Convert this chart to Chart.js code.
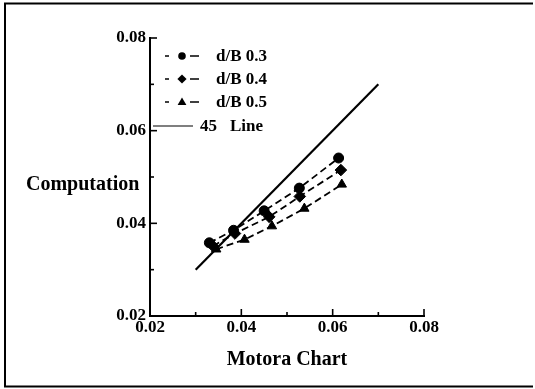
<!DOCTYPE html>
<html>
<head>
<meta charset="utf-8">
<script src="https://cdn.jsdelivr.net/npm/chart.js@4/dist/chart.umd.min.js"></script>
<style>
  html, body { margin: 0; padding: 0; background: #fff; }
  #wrap { width: 535px; height: 389px; }
</style>
</head>
<body>
<div id="wrap"><canvas id="chart" width="535" height="389"></canvas></div>
<script>
// values (Motora chart vs computation)
const motoraDB03 = [0.0330, 0.0383, 0.0450, 0.0527, 0.0613];
const compDB03   = [0.0358, 0.0385, 0.0427, 0.0476, 0.0541];
const motoraDB04 = [0.0338, 0.0386, 0.0461, 0.0528, 0.0618];
const compDB04   = [0.0351, 0.0378, 0.0414, 0.0458, 0.0515];
const motoraDB05 = [0.0345, 0.0407, 0.0467, 0.0538, 0.0620];
const compDB05   = [0.0344, 0.0365, 0.0394, 0.0432, 0.0484];
const line45     = [0.03, 0.07];

const seriesLabels = ['d/B 0.3', 'd/B 0.4', 'd/B 0.5'];
const axisMin = 0.02;
const axisMax = 0.08;
const tickStep = 0.01;

const serif = 'Liberation Serif';

function pairs(xs, ys) {
    return xs.map((x, i) => ({ x: x, y: ys[i] }));
}

function isMajor(v) {
    return Math.round(v * 100) % 2 === 0;
}

function markerDataset(label, xs, ys, style, radius) {
    return {
        label: label,
        data: pairs(xs, ys),
        showLine: true,
        borderColor: '#000',
        backgroundColor: '#000',
        borderWidth: 1.8,
        borderDash: [7, 4],
        pointStyle: style,
        pointRadius: radius,
        pointBorderWidth: 1,
        pointBackgroundColor: '#000',
        pointBorderColor: '#000'
    };
}

function drawMarker(ctx, style, r, x, y) {
    ctx.save();
    ctx.fillStyle = '#000';
    ctx.beginPath();
    if (style === 'circle') {
        ctx.arc(x, y, r, 0, Math.PI * 2);
    } else if (style === 'rectRot') {
        ctx.moveTo(x, y - r); ctx.lineTo(x + r, y); ctx.lineTo(x, y + r); ctx.lineTo(x - r, y);
    } else {
        ctx.moveTo(x, y - r); ctx.lineTo(x + r, y + r * 0.7); ctx.lineTo(x - r, y + r * 0.7);
    }
    ctx.closePath();
    ctx.fill();
    ctx.restore();
}

// tick marks pointing into the plot, longer on labelled values
const inwardTicks = {
    id: 'inwardTicks',
    afterDraw(chart) {
        const ctx = chart.ctx;
        const xs = chart.scales.x, ys = chart.scales.y;
        ctx.save();
        ctx.strokeStyle = '#000';
        ctx.lineWidth = 1.6;
        xs.ticks.forEach(t => {
            const px = xs.getPixelForValue(t.value);
            const len = isMajor(t.value) ? 7 : 4;
            ctx.beginPath();
            ctx.moveTo(px, xs.top);
            ctx.lineTo(px, xs.top - len);
            ctx.stroke();
        });
        ys.ticks.forEach(t => {
            const py = ys.getPixelForValue(t.value);
            const len = isMajor(t.value) ? 7 : 4;
            ctx.beginPath();
            ctx.moveTo(ys.right, py);
            ctx.lineTo(ys.right + len, py);
            ctx.stroke();
        });
        ctx.restore();
    }
};

// legend, y title and the frame of the figure
const decorations = {
    id: 'decorations',
    afterDraw(chart) {
        const ctx = chart.ctx;
        ctx.save();
        ctx.fillStyle = '#000';
        ctx.strokeStyle = '#000';

        // frame (no right edge in the scan)
        ctx.lineWidth = 2;
        ctx.beginPath();
        ctx.moveTo(533, 3.5);
        ctx.lineTo(5, 3.5);
        ctx.lineTo(5, 386.5);
        ctx.lineTo(533, 386.5);
        ctx.stroke();

        // y title, horizontal
        ctx.font = 'bold 20px "' + serif + '"';
        ctx.textAlign = 'left';
        ctx.textBaseline = 'alphabetic';
        ctx.fillText('Computation', 26, 190);

        // legend
        const rows = [56, 79, 102];
        const styles = ['circle', 'rectRot', 'triangle'];
        const radii = [3.8, 4.6, 4.4];
        ctx.font = 'bold 17px "' + serif + '"';
        ctx.textBaseline = 'middle';
        ctx.lineWidth = 1.5;
        seriesLabels.forEach((lab, i) => {
            const y = rows[i];
            ctx.beginPath();
            ctx.moveTo(165, y); ctx.lineTo(169, y);
            ctx.moveTo(190, y); ctx.lineTo(199, y);
            ctx.stroke();
            drawMarker(ctx, styles[i], radii[i], 182, y);
            ctx.fillText(lab, 216, y + 1);
        });
        ctx.lineWidth = 1.2;
        ctx.beginPath();
        ctx.moveTo(153, 126); ctx.lineTo(193, 126);
        ctx.stroke();
        ctx.fillText('45', 200, 127);
        ctx.fillText('Line', 230, 127);
        ctx.restore();
    }
};

const tickFont = { family: serif, size: 17, weight: 'bold' };

new Chart(document.getElementById('chart'), {
    type: 'scatter',
    data: {
        datasets: [
            {
                label: '45 Line',
                data: pairs(line45, line45),
                showLine: true,
                borderColor: '#000',
                borderWidth: 2.2,
                pointRadius: 0
            },
            markerDataset(seriesLabels[0], motoraDB03, compDB03, 'circle', 5),
            markerDataset(seriesLabels[1], motoraDB04, compDB04, 'rectRot', 5.8),
            markerDataset(seriesLabels[2], motoraDB05, compDB05, 'triangle', 5.4)
        ]
    },
    options: {
        responsive: false,
        animation: false,
        devicePixelRatio: 1,
        layout: { padding: { left: 0, top: 38, right: 111, bottom: 0 } },
        plugins: {
            legend: { display: false },
            tooltip: { enabled: false }
        },
        scales: {
            x: {
                type: 'linear',
                min: axisMin,
                max: axisMax,
                afterFit: s => { s.height = 73; },
                grid: { display: false, drawTicks: false },
                border: { display: true, color: '#000', width: 2 },
                ticks: {
                    stepSize: tickStep,
                    padding: 1,
                    color: '#000',
                    font: tickFont,
                    maxRotation: 0,
                    autoSkip: false,
                    callback: v => isMajor(v) ? v.toFixed(2) : ''
                },
                title: {
                    display: true,
                    text: 'Motora Chart',
                    color: '#000',
                    font: { family: serif, size: 20, weight: 'bold' },
                    padding: { top: 4, bottom: 17 }
                }
            },
            y: {
                type: 'linear',
                min: axisMin,
                max: axisMax,
                afterFit: s => { s.width = 150; },
                grid: { display: false, drawTicks: false },
                border: { display: true, color: '#000', width: 2 },
                ticks: {
                    stepSize: tickStep,
                    padding: 4,
                    color: '#000',
                    font: tickFont,
                    autoSkip: false,
                    callback: v => isMajor(v) ? v.toFixed(2) : ''
                }
            }
        }
    },
    plugins: [inwardTicks, decorations]
});
</script>
</body>
</html>
